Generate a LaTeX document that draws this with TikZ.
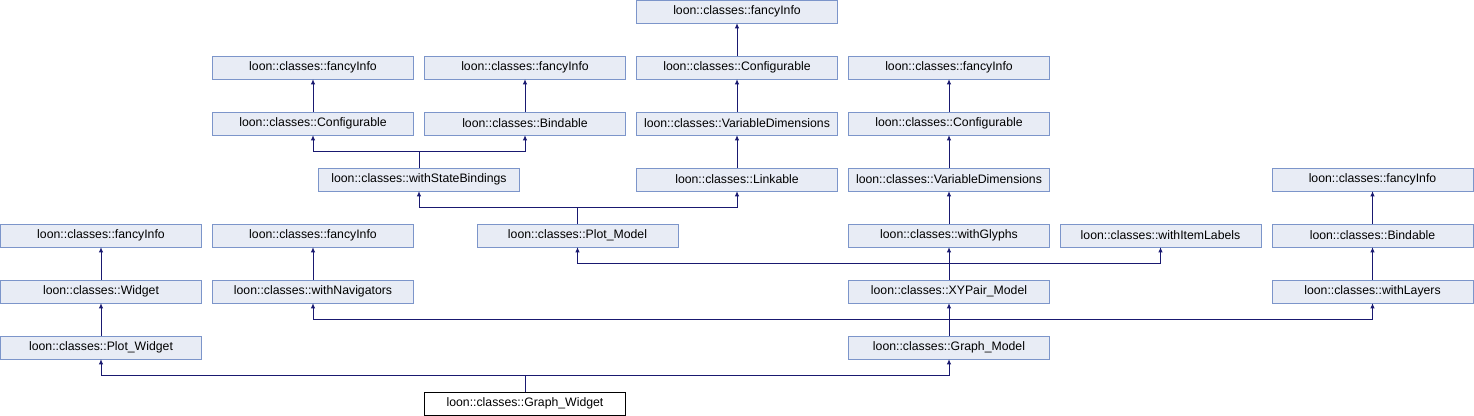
\documentclass[tikz,border=0pt]{standalone}
\usepackage{fontspec}
\setmainfont{Liberation Sans}
\usetikzlibrary{arrows.meta}
\definecolor{boxfill}{HTML}{E8ECF5}
\definecolor{boxline}{HTML}{7C95CA}
\definecolor{edge}{HTML}{191970}

\begin{document}
\begin{tikzpicture}[x=0.75pt,y=-0.75pt,
  cls/.style={draw=boxline,fill=boxfill,minimum width=151pt,minimum height=17pt,inner sep=0pt,font=\fontsize{9.2}{10}\selectfont},
  me/.style={cls,draw=black,fill=white},
  inh/.style={draw=edge,line width=0.75pt,-{Latex[length=4pt,width=3.4pt]}}]
\useasboundingbox (0,0) rectangle (1474,416);
% row 0 to 3
\node[cls] (fancyTop) at (737,11.5) {loon::classes::fancyInfo};
\node[cls] (fancyL) at (313,67.5) {loon::classes::fancyInfo};
\node[cls] (fancyB) at (525,67.5) {loon::classes::fancyInfo};
\node[cls] (confM) at (737,67.5) {loon::classes::Configurable};
\node[cls] (fancyR) at (949,67.5) {loon::classes::fancyInfo};
\node[cls] (confL) at (313,123.5) {loon::classes::Configurable};
\node[cls] (bindB) at (525,123.5) {loon::classes::Bindable};
\node[cls] (varM) at (737,123.5) {loon::classes::VariableDimensions};
\node[cls] (confR) at (949,123.5) {loon::classes::Configurable};
\node[cls] (stateB) at (419,179.5) {loon::classes::withStateBindings};
\node[cls] (linkable) at (737,179.5) {loon::classes::Linkable};
\node[cls] (varR) at (949,179.5) {loon::classes::VariableDimensions};
\node[cls] (fancyLay) at (1372.5,179.5) {loon::classes::fancyInfo};
% row 4 to 7
\node[cls] (fancyW) at (101,235.5) {loon::classes::fancyInfo};
\node[cls] (fancyN) at (313,235.5) {loon::classes::fancyInfo};
\node[cls] (plotModel) at (577.5,235.5) {loon::classes::Plot\_Model};
\node[cls] (glyphs) at (949,235.5) {loon::classes::withGlyphs};
\node[cls] (itemLab) at (1160.5,235.5) {loon::classes::withItemLabels};
\node[cls] (bindLay) at (1372.5,235.5) {loon::classes::Bindable};
\node[cls] (widget) at (101,291.5) {loon::classes::Widget};
\node[cls] (navig) at (313,291.5) {loon::classes::withNavigators};
\node[cls] (xyPair) at (949,291.5) {loon::classes::XYPair\_Model};
\node[cls] (layers) at (1372.5,291.5) {loon::classes::withLayers};
\node[cls] (plotWidget) at (101,347.5) {loon::classes::Plot\_Widget};
\node[cls] (graphModel) at (949,347.5) {loon::classes::Graph\_Model};
\node[me] (graphWidget) at (525,403.5) {loon::classes::Graph\_Widget};
% single parents
\foreach \c/\p in {confM/fancyTop,confL/fancyL,bindB/fancyB,varM/confM,confR/fancyR,
  linkable/varM,varR/confR,glyphs/varR,bindLay/fancyLay,widget/fancyW,navig/fancyN,
  plotWidget/widget,layers/bindLay,xyPair/glyphs,graphModel/xyPair}
  \draw[inh] (\c) -- (\p);
% several parents
\foreach \p in {confL,bindB}
  \draw[inh] (stateB.north) -- ++(0,-16) -| (\p.south);
\foreach \p in {stateB,linkable}
  \draw[inh] (plotModel.north) -- ++(0,-16) -| (\p.south);
\foreach \p in {plotModel,itemLab}
  \draw[inh] (xyPair.north) -- ++(0,-16) -| (\p.south);
\foreach \p in {navig,layers}
  \draw[inh] (graphModel.north) -- ++(0,-16) -| (\p.south);
\foreach \p in {plotWidget,graphModel}
  \draw[inh] (graphWidget.north) -- ++(0,-16) -| (\p.south);
\end{tikzpicture}
\end{document}
